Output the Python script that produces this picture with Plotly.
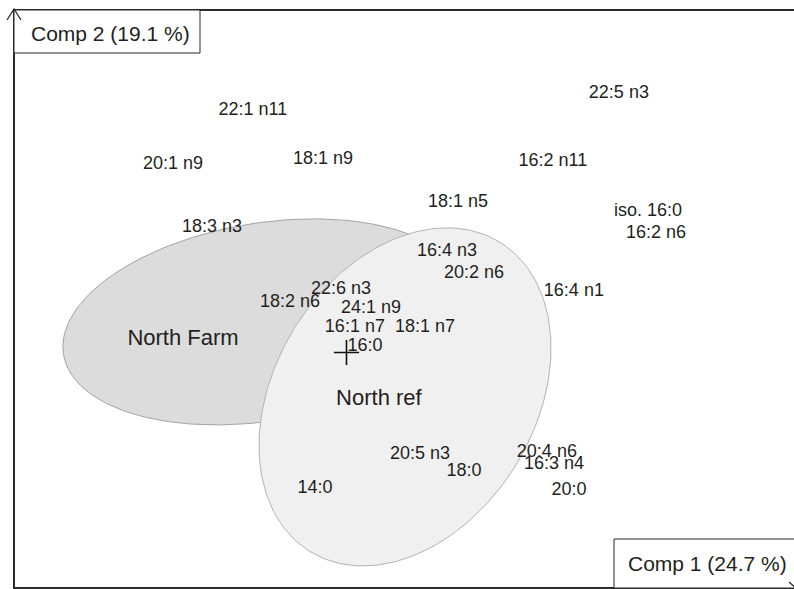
import numpy as np
import plotly.graph_objects as go

# Fatty-acid loadings on the first two principal components
fa_labels = [
    "22:5 n3", "22:1 n11", "20:1 n9", "18:1 n9", "16:2 n11", "18:1 n5",
    "iso. 16:0", "16:2 n6", "18:3 n3", "16:4 n3", "20:2 n6", "16:4 n1",
    "22:6 n3", "18:2 n6", "24:1 n9", "16:1 n7", "18:1 n7", "16:0",
    "20:5 n3", "18:0", "20:4 n6", "16:3 n4", "20:0", "14:0",
]
comp1 = [
    0.908, -0.312, -0.578, -0.078, 0.688, 0.372,
    1.005, 1.032, -0.448, 0.335, 0.425, 0.758,
    -0.018, -0.188, 0.082, 0.028, 0.262, 0.062,
    0.245, 0.392, 0.668, 0.692, 0.742, -0.105,
]
comp2 = [
    0.864, 0.807, 0.627, 0.644, 0.637, 0.500,
    0.470, 0.397, 0.417, 0.337, 0.264, 0.204,
    0.210, 0.167, 0.147, 0.084, 0.084, 0.020,
    -0.340, -0.396, -0.333, -0.373, -0.460, -0.453,
]

# Site groups: ellipse centre, semi-axes and rotation (degrees)
groups = ["North Farm", "North ref"]
group_cx = [-0.272, 0.195]
group_cy = [0.102, -0.148]
group_a = [0.680, 0.605]
group_b = [0.330, 0.434]
group_angle = [9.2, 58.5]
group_label_x = [-0.545, 0.108]
group_label_y = [0.042, -0.158]
group_fill = ["#dcdcdd", "#f0f0f0"]
group_line = ["#a3a3a3", "#b3b3b3"]

axis_titles = ["Comp 1 (24.7 %)", "Comp 2 (19.1 %)"]

FONT = "Liberation Sans, Arial, Helvetica, sans-serif"
INK = "#231f20"

fig = go.Figure()

t = np.linspace(0, 2 * np.pi, 241)
for i, name in enumerate(groups):
    phi = np.radians(group_angle[i])
    ex = group_a[i] * np.cos(t)
    ey = group_b[i] * np.sin(t)
    xs = group_cx[i] + ex * np.cos(phi) - ey * np.sin(phi)
    ys = group_cy[i] + ex * np.sin(phi) + ey * np.cos(phi)
    fig.add_trace(go.Scatter(
        x=xs, y=ys, mode="lines", fill="toself",
        fillcolor=group_fill[i],
        line=dict(color=group_line[i], width=1),
        hoverinfo="skip", showlegend=False,
    ))

# Origin marker
fig.add_trace(go.Scatter(
    x=[0], y=[0], mode="markers",
    marker=dict(symbol="cross-thin", size=18,
                line=dict(color="#111111", width=1.6)),
    hoverinfo="skip", showlegend=False,
))

fig.add_trace(go.Scatter(
    x=comp1, y=comp2, mode="text", text=fa_labels,
    textposition="middle center",
    textfont=dict(family=FONT, size=18, color=INK),
    hoverinfo="text", showlegend=False,
))

fig.add_trace(go.Scatter(
    x=group_label_x, y=group_label_y, mode="text", text=groups,
    textposition="middle center",
    textfont=dict(family=FONT, size=22, color=INK),
    hoverinfo="skip", showlegend=False,
))

FRAME = "#2b2b2b"
shapes = [
    # axis-title boxes
    dict(type="rect", xref="paper", yref="paper",
         xsizemode="pixel", ysizemode="pixel", xanchor=0, yanchor=1,
         x0=-1, x1=185, y0=1, y1=-42,
         line=dict(color=FRAME, width=1), fillcolor="white", layer="above"),
    dict(type="rect", xref="paper", yref="paper",
         xsizemode="pixel", ysizemode="pixel", xanchor=1, yanchor=0,
         x0=-180, x1=12, y0=48, y1=-1,
         line=dict(color=FRAME, width=1), fillcolor="white", layer="above"),
    # arrow heads
    dict(type="path", xref="paper", yref="paper",
         xsizemode="pixel", ysizemode="pixel", xanchor=0, yanchor=1,
         path="M-8,-9 L-1,2 L6,-9",
         line=dict(color=FRAME, width=1.3), layer="above"),
    dict(type="path", xref="paper", yref="paper",
         xsizemode="pixel", ysizemode="pixel", xanchor=1, yanchor=0,
         path="M-5,5 L2,-1",
         line=dict(color=FRAME, width=1.3), layer="above"),
]

annotations = [
    dict(text=axis_titles[1], xref="paper", yref="paper", x=0, y=1,
         xanchor="center", yanchor="middle", xshift=95, yshift=-22,
         showarrow=False, font=dict(family=FONT, size=21, color=INK)),
    dict(text=axis_titles[0], xref="paper", yref="paper", x=1, y=0,
         xanchor="center", yanchor="middle", xshift=-87, yshift=24,
         showarrow=False, font=dict(family=FONT, size=21, color=INK)),
]

fig.update_layout(
    width=794, height=589,
    margin=dict(l=15, r=0, t=11, b=2, pad=0),
    paper_bgcolor="white", plot_bgcolor="white",
    shapes=shapes, annotations=annotations,
    xaxis=dict(range=[-1.105, 1.4917], showgrid=False, zeroline=False,
               showticklabels=False, ticks="", showline=True, mirror=True,
               linecolor=FRAME, linewidth=2),
    yaxis=dict(range=[-0.7817, 1.1383], showgrid=False, zeroline=False,
               showticklabels=False, ticks="", showline=True, mirror=False,
               linecolor=FRAME, linewidth=2),
)

fig.write_html("out.html")
